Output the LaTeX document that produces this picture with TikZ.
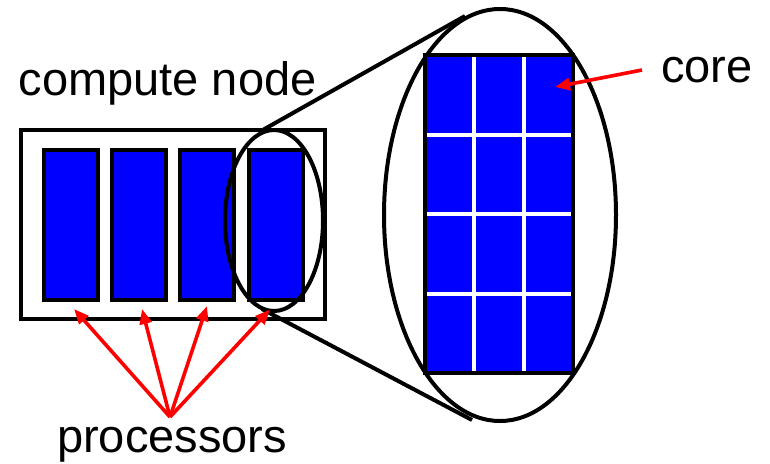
\documentclass[tikz,border=0pt]{standalone}
\usepackage{fontspec}
\setmainfont{Liberation Sans}
\usetikzlibrary{arrows.meta,shapes.geometric,calc}
\definecolor{chipblue}{RGB}{0,0,255}
\definecolor{pointred}{RGB}{255,0,0}
\begin{document}
\begin{tikzpicture}[x=1pt,y=-1pt,
  outline/.style={draw=black, line width=4pt},
  chip/.style={outline, fill=chipblue, inner sep=0pt},
  proc/.style={chip, minimum width=54pt, minimum height=150pt},
  lens/.style={outline, ellipse, inner sep=0pt},
  label/.style={font=\fontsize{47}{56}\selectfont, inner sep=0pt, anchor=base west},
  pointer/.style={draw=pointred, line width=3.6pt, -{Triangle[length=15pt,width=12pt]}},
  grid/.style={draw=white, line width=4pt}
]
\useasboundingbox (0,0) rectangle (770,463);

% compute node with its four processors
\node[outline, minimum width=304pt, minimum height=189pt, inner sep=0pt] (node) at (173,224.5) {};
\node[proc] (p1) at (71,225) {};
\node[proc] (p2) at (138.5,225) {};
\node[proc] (p3) at (207,225) {};
\node[proc] (p4) at (275.5,225) {};

% magnifier around the last processor
\node[lens, minimum width=98pt, minimum height=181pt] (small) at (274,220.5) {};
\node[lens, minimum width=232pt, minimum height=412pt] (big) at (500,215) {};
\coordinate (st) at (261,131);
\coordinate (bt) at (465,16);
\coordinate (sb) at (262,309);
\coordinate (bb) at (472,420);
\draw[outline] (st) -- (bt);
\draw[outline] (sb) -- (bb);

% processor split into cores
\node[chip, draw=none, minimum width=144pt, minimum height=314pt] (cpu) at (499,214) {};
\foreach \f in {1/3,2/3}
  \draw[grid] ($(cpu.north west)!\f!(cpu.north east)$) -- ($(cpu.south west)!\f!(cpu.south east)$);
\foreach \f in {1/4,2/4,3/4}
  \draw[grid] ($(cpu.north west)!\f!(cpu.south west)$) -- ($(cpu.north east)!\f!(cpu.south east)$);
\draw[outline] (cpu.north west) rectangle (cpu.south east);

% labels
\node[label] (title) at (18.5,95) {compute node};
\node[label] (corelbl) at (661,82) {core};
\node[label] (proclbl) at (57,452) {processors};

% pointers
\coordinate (coresrc) at (642,70);
\coordinate (coretip) at (555,87);
\draw[pointer] (coresrc) -- (coretip);
\coordinate (src) at (170,417);
\draw[pointer] (src) -- ($(p1.south)+(3,7)$);
\draw[pointer] (src) -- ($(p2.south)+(3.5,7)$);
\draw[pointer] (src) -- ($(p3.south)+(0,4)$);
\draw[pointer] (src) -- ($(p4.south)+(-5.5,7.5)$);
\end{tikzpicture}
\end{document}
